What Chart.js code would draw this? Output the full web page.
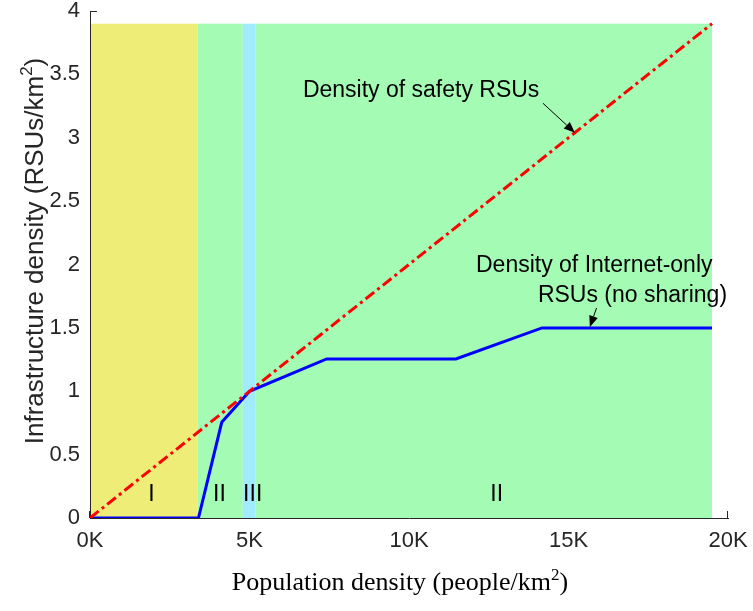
<!DOCTYPE html>
<html>
<head>
<meta charset="utf-8">
<script src="https://cdn.jsdelivr.net/npm/chart.js@4.4.1/dist/chart.umd.min.js"></script>
<style>
  html, body { margin: 0; padding: 0; background: #ffffff; }
  #wrap { width: 753px; height: 611px; }
</style>
</head>
<body>
<div id="wrap"><canvas id="c" width="753" height="611"></canvas></div>
<script>
// ---------------- data ----------------
const safetyX = [0, 19500];
const safetyY = [0, 3.9];

const internetX = [0, 3400, 4130, 5000, 7420, 11470, 14170, 19500];
const internetY = [0, 0, 0.755, 1.0, 1.255, 1.255, 1.5, 1.5];

const regionEdges = [0, 3370, 4790, 5180, 19500];
const regionTop = 3.9;
const regionNames = ['I', 'II', 'III', 'II'];
const regionLabelX = [1930, 4060, 5100, 12750];
const regionLabelY = 0.185;

const xTickValues = [0, 5000, 10000, 15000, 20000];
const xTickLabels = ['0K', '5K', '10K', '15K', '20K'];
const yTickValues = [0, 0.5, 1, 1.5, 2, 2.5, 3, 3.5, 4];
const yTickLabels = ['0', '0.5', '1', '1.5', '2', '2.5', '3', '3.5', '4'];

const annotSafetyText = 'Density of safety RSUs';
const annotSafetyPos = [10380, 3.32];
const annotSafetyArrow = [[14200, 3.272], [15200, 3.04]];

const annotInternetLines = ['Density of Internet-only', 'RSUs (no sharing)'];
const annotInternetPos = [[12100, 1.94], [14040, 1.705]];
const annotInternetArrow = [[15880, 1.657], [15670, 1.507]];

const xTitle = ['Population density (people/km', '2', ')'];
const yTitle = ['Infrastructure density (RSUs/km', '2', ')'];

// ---------------- style ----------------
const regionColors = ['#eeed78', '#a4fbb4', '#a2ebff', '#a4fbb4'];
const axisColor = '#262626';
const sansFont = '"Liberation Sans", Arial, Helvetica, sans-serif';
const serifFont = '"Liberation Serif", "Times New Roman", serif';

function pts(xs, ys) { return xs.map((x, i) => ({ x: x, y: ys[i] })); }

function drawArrow(ctx, x0, y0, x1, y1) {
  const ang = Math.atan2(y1 - y0, x1 - x0);
  const hl = 11, hw = 4.5;
  const bx = x1 - hl * Math.cos(ang), by = y1 - hl * Math.sin(ang);
  ctx.beginPath();
  ctx.moveTo(x0, y0);
  ctx.lineTo(bx, by);
  ctx.strokeStyle = '#000';
  ctx.lineWidth = 1;
  ctx.stroke();
  ctx.beginPath();
  ctx.moveTo(x1, y1);
  ctx.lineTo(bx + hw * Math.sin(ang), by - hw * Math.cos(ang));
  ctx.lineTo(bx - hw * Math.sin(ang), by + hw * Math.cos(ang));
  ctx.closePath();
  ctx.fillStyle = '#000';
  ctx.fill();
}

function drawSupText(ctx, parts, font, size, supSize, supRise) {
  ctx.font = size + 'px ' + font;
  const w0 = ctx.measureText(parts[0]).width;
  const w2 = ctx.measureText(parts[2]).width;
  ctx.font = supSize + 'px ' + font;
  const w1 = ctx.measureText(parts[1]).width;
  const total = w0 + w1 + w2;
  let x = -total / 2;
  ctx.textAlign = 'left';
  ctx.textBaseline = 'alphabetic';
  ctx.font = size + 'px ' + font;
  ctx.fillText(parts[0], x, 0);
  x += w0;
  ctx.font = supSize + 'px ' + font;
  ctx.fillText(parts[1], x, -supRise);
  x += w1;
  ctx.font = size + 'px ' + font;
  ctx.fillText(parts[2], x, 0);
}

const customPlugin = {
  id: 'custom',
  beforeDraw(chart) {
    const { ctx, scales: { x, y } } = chart;
    ctx.save();
    ctx.strokeStyle = axisColor;
    ctx.lineWidth = 1;
    const yb = y.getPixelForValue(0);
    const xl = x.getPixelForValue(0);
    xTickValues.forEach(v => {
      const px = Math.round(x.getPixelForValue(v)) - 0.5;
      ctx.beginPath(); ctx.moveTo(px, yb); ctx.lineTo(px, yb - 7); ctx.stroke();
    });
    yTickValues.forEach(v => {
      const py = Math.round(y.getPixelForValue(v)) + 0.5;
      ctx.beginPath(); ctx.moveTo(xl, py); ctx.lineTo(xl + 7, py); ctx.stroke();
    });
    const yt = y.getPixelForValue(regionTop);
    for (let i = 0; i < regionColors.length; i++) {
      const x0 = x.getPixelForValue(regionEdges[i]);
      const x1 = x.getPixelForValue(regionEdges[i + 1]);
      ctx.fillStyle = regionColors[i];
      ctx.fillRect(x0, yt, x1 - x0, yb - yt);
    }
    ctx.restore();
  },
  afterDatasetsDraw(chart) {
    const { ctx, scales: { x, y } } = chart;
    ctx.save();
    ctx.fillStyle = '#000';
    ctx.font = '23px ' + sansFont;
    ctx.textAlign = 'center';
    ctx.textBaseline = 'middle';
    regionNames.forEach((n, i) => {
      ctx.fillText(n, x.getPixelForValue(regionLabelX[i]), y.getPixelForValue(regionLabelY));
    });
    ctx.textBaseline = 'alphabetic';
    ctx.textAlign = 'center';
    ctx.fillText(annotSafetyText, x.getPixelForValue(annotSafetyPos[0]), y.getPixelForValue(annotSafetyPos[1]));
    ctx.textAlign = 'left';
    annotInternetLines.forEach((t, i) => {
      ctx.fillText(t, x.getPixelForValue(annotInternetPos[i][0]), y.getPixelForValue(annotInternetPos[i][1]));
    });
    drawArrow(ctx,
      x.getPixelForValue(annotSafetyArrow[0][0]), y.getPixelForValue(annotSafetyArrow[0][1]),
      x.getPixelForValue(annotSafetyArrow[1][0]), y.getPixelForValue(annotSafetyArrow[1][1]));
    drawArrow(ctx,
      x.getPixelForValue(annotInternetArrow[0][0]), y.getPixelForValue(annotInternetArrow[0][1]),
      x.getPixelForValue(annotInternetArrow[1][0]), y.getPixelForValue(annotInternetArrow[1][1]));
    ctx.restore();
  },
  afterDraw(chart) {
    const { ctx } = chart;
    ctx.save();
    ctx.fillStyle = '#000';
    ctx.translate(400, 590);
    drawSupText(ctx, xTitle, serifFont, 26, 17, 10);
    ctx.restore();
    ctx.save();
    ctx.fillStyle = '#262626';
    ctx.translate(43, 251);
    ctx.rotate(-Math.PI / 2);
    drawSupText(ctx, yTitle, sansFont, 26, 17, 11);
    ctx.restore();
  }
};

new Chart(document.getElementById('c'), {
  type: 'scatter',
  data: {
    datasets: [
      {
        label: 'Density of safety RSUs',
        data: pts(safetyX, safetyY),
        showLine: true,
        borderColor: '#ff0000',
        borderWidth: 3,
        borderDash: [11, 4, 3, 4],
        pointRadius: 0,
        fill: false
      },
      {
        label: 'Density of Internet-only RSUs (no sharing)',
        data: pts(internetX, internetY),
        showLine: true,
        borderColor: '#0000ff',
        borderWidth: 3,
        pointRadius: 0,
        fill: false
      }
    ]
  },
  options: {
    responsive: false,
    animation: false,
    layout: { padding: { top: 11, right: 25, left: 0, bottom: 0 } },
    plugins: { legend: { display: false }, tooltip: { enabled: false } },
    scales: {
      x: {
        type: 'linear',
        min: 0,
        max: 20000,
        afterFit(s) { s.height = 93; s.paddingLeft = 0; s.paddingRight = 0; },
        afterBuildTicks(s) { s.ticks = xTickValues.map(v => ({ value: v })); },
        ticks: {
          callback: (v, i) => xTickLabels[i],
          color: axisColor,
          font: { family: sansFont, size: 22 },
          padding: 10,
          maxRotation: 0
        },
        grid: { display: false, drawTicks: false },
        border: { display: true, color: axisColor, width: 1 }
      },
      y: {
        type: 'linear',
        min: 0,
        max: 4,
        afterFit(s) { s.width = 90; s.paddingTop = 0; s.paddingBottom = 0; },
        afterBuildTicks(s) { s.ticks = yTickValues.map(v => ({ value: v })); },
        ticks: {
          callback: (v, i) => yTickLabels[i],
          color: axisColor,
          font: { family: sansFont, size: 22 },
          padding: 10
        },
        grid: { display: false, drawTicks: false },
        border: { display: true, color: axisColor, width: 1 }
      }
    }
  },
  plugins: [customPlugin]
});
</script>
</body>
</html>
